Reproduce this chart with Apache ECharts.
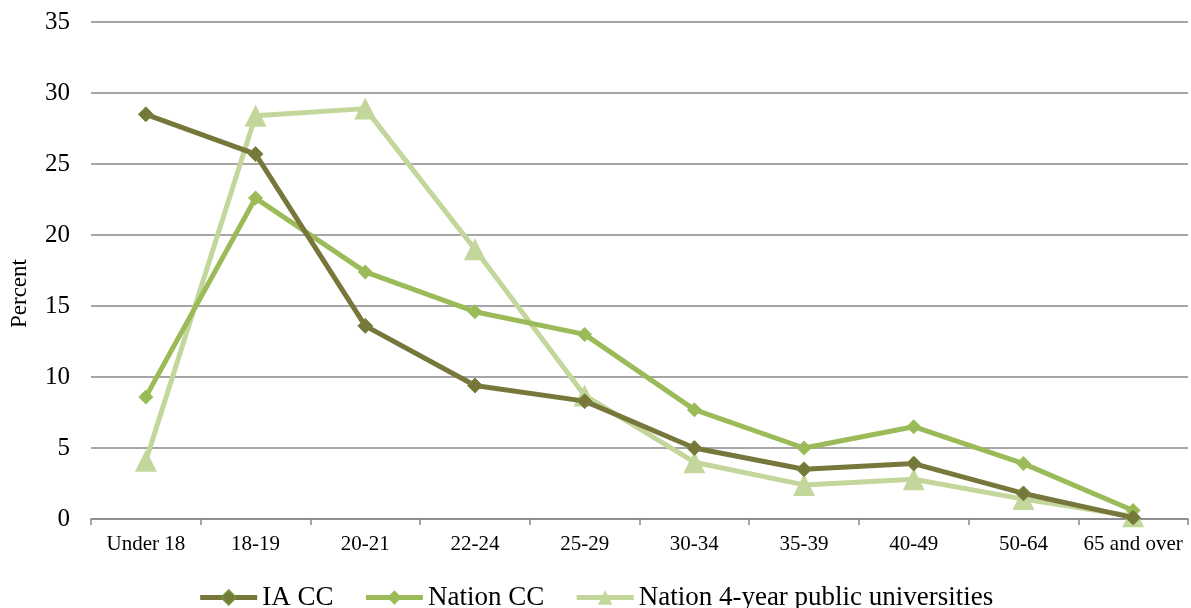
<!DOCTYPE html>
<html><head><meta charset="utf-8">
<script src="https://cdn.jsdelivr.net/npm/echarts@6/dist/echarts.min.js"></script>
<style>html,body{margin:0;padding:0;background:#fff}#c{width:1191px;height:608px}</style>
</head><body><div id="c"></div>
<script>
const categories = ['Under 18','18-19','20-21','22-24','25-29','30-34','35-39','40-49','50-64','65 and over'];
const iaCC = [28.5, 25.7, 13.6, 9.4, 8.3, 5.0, 3.5, 3.9, 1.8, 0.1];
const nationCC = [8.6, 22.6, 17.4, 14.6, 13.0, 7.7, 5.0, 6.5, 3.9, 0.6];
const nation4yr = [4.1, 28.4, 28.9, 19.0, 8.7, 4.0, 2.4, 2.8, 1.4, 0.2];
const yTicks = {min: 0, max: 35, interval: 5};

const font = 'Liberation Serif, Times New Roman, serif';
const chart = echarts.init(document.getElementById('c'));
chart.setOption({
  animation: false,
  grid: {left: 91, right: 3, top: 22, bottom: 89},
  legend: {
    top: 579, left: 'center', itemWidth: 57, itemHeight: 18, itemGap: 30,
    lineStyle: {width: 5},
    textStyle: {fontFamily: font, fontSize: 27, color: '#000'},
    data: ['IA CC','Nation CC','Nation 4-year public universities']
  },
  graphic: [{
    type: 'text', rotation: Math.PI/2, x: 8, y: 328,
    style: {text: 'Percent', font: '23px ' + font, fill: '#000'}
  }],
  xAxis: {
    type: 'category', data: categories, boundaryGap: true,
    axisLine: {lineStyle: {color: '#888', width: 1.5}},
    axisTick: {show: true, alignWithLabel: false, length: 6, lineStyle: {color: '#888', width: 1.5}},
    axisLabel: {fontFamily: font, fontSize: 21, color: '#000', margin: 15, interval: 0}
  },
  yAxis: {
    type: 'value', min: yTicks.min, max: yTicks.max, interval: yTicks.interval,
    axisLine: {show: false}, axisTick: {show: false},
    splitLine: {lineStyle: {color: '#888', width: 1.5}},
    axisLabel: {fontFamily: font, fontSize: 25, color: '#000', margin: 21}
  },
  series: [
    {name: 'IA CC', type: 'line', data: iaCC, symbol: 'diamond', symbolSize: 15,
     lineStyle: {color: '#77773c', width: 5}, itemStyle: {color: '#77773c', borderColor: '#6f8f3a', borderWidth: 1}, z: 3},
    {name: 'Nation CC', type: 'line', data: nationCC, symbol: 'diamond', symbolSize: 15,
     lineStyle: {color: '#9bbb59', width: 5}, itemStyle: {color: '#9bbb59'}, z: 2},
    {name: 'Nation 4-year public universities', type: 'line', data: nation4yr, symbol: 'triangle', symbolSize: 22,
     lineStyle: {color: '#c3d69b', width: 5}, itemStyle: {color: '#c3d69b'}, z: 1}
  ]
});
</script></body></html>
